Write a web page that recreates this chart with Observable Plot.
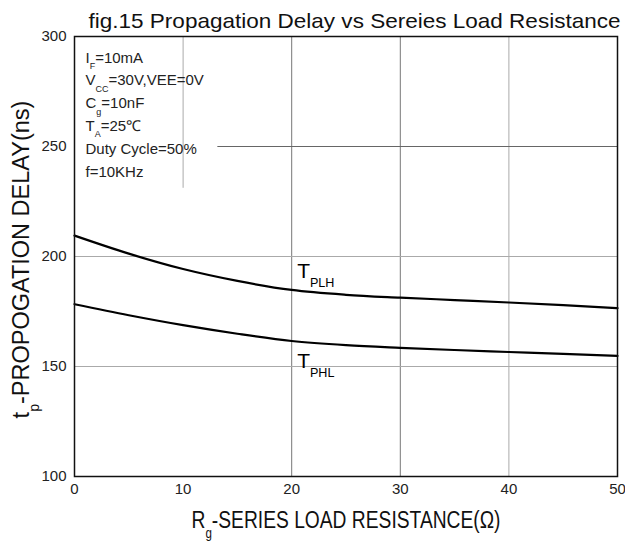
<!DOCTYPE html>
<html>
<head>
<meta charset="utf-8">
<script src="https://cdn.jsdelivr.net/npm/d3@7"></script>
<script src="https://cdn.jsdelivr.net/npm/@observablehq/plot@0.6"></script>
<style>
  html, body { margin: 0; padding: 0; background: #fff; }
</style>
</head>
<body>
<div id="chart"></div>
<script>
// ---- data ----
const resistance = [0, 5, 10, 15, 20, 25, 30, 35, 40, 45, 50];
const tplh = [209.5, 201.3, 194.3, 188.9, 184.8, 182.6, 181.3, 180.2, 179.1, 177.9, 176.5];
const tphl = [178.3, 173.3, 168.8, 164.9, 161.6, 159.7, 158.5, 157.5, 156.6, 155.7, 154.8];
const xTicks = [0, 10, 20, 30, 40, 50];
const yTicks = [100, 150, 200, 250, 300];
const gridX = [10, 20, 30, 40];
const gridXFrom = [231, 100, 100, 100];
const gridXColor = ["#aaa", "#777", "#777", "#aaa"];
const gridY = [150, 200, 250];
const gridYFrom = [0, 0, 13.2];
const gridYColor = ["#aaa", "#aaa", "#666"];
const titleText = "fig.15 Propagation Delay vs Sereies Load Resistance";
const xLabel = "R_{g}-SERIES LOAD RESISTANCE(Ω)";
const yLabel = "t_{p}-PROPOGATION DELAY(ns)";
const conditions = ["I_{F}=10mA", "V_{CC}=30V,VEE=0V", "C_{g}=10nF", "T_{A}=25℃", "Duty Cycle=50%", "f=10KHz"];
const seriesNames = ["T_{PLH}", "T_{PHL}"];
const seriesLabelX = [20.5, 20.5];
const seriesLabelY = [193.4, 152.5];

const rows = (vals, name) => resistance.map((r, i) => ({r, v: vals[i], name}));
const curves = [...rows(tplh, "PLH"), ...rows(tphl, "PHL")];
const gx = gridX.map((x, i) => ({x, y1: gridXFrom[i], c: gridXColor[i]}));
const gy = gridY.map((y, i) => ({y, x1: gridYFrom[i], c: gridYColor[i]}));
const labels = seriesNames.map((t, i) => ({t, x: seriesLabelX[i], y: seriesLabelY[i]}));

const svg = Plot.plot({
  width: 625,
  height: 542,
  marginLeft: 74,
  marginRight: 8,
  marginTop: 36,
  marginBottom: 66,
  style: {fontFamily: "'Liberation Sans', Arial, sans-serif", fontSize: "15px", color: "#222", background: "#fff"},
  x: {domain: [0, 50], ticks: xTicks, tickSize: 0, tickPadding: 7, label: null, tickFormat: d => String(d)},
  y: {domain: [100, 300], ticks: yTicks, tickSize: 0, tickPadding: 8, label: null, tickFormat: d => String(d)},
  marks: [
    Plot.ruleX(gx, {x: "x", y1: "y1", y2: 300, stroke: "c", strokeWidth: 1}),
    Plot.ruleY(gy, {y: "y", x1: "x1", x2: 50, stroke: "c", strokeWidth: 1}),
    Plot.line(curves, {x: "r", y: "v", z: "name", stroke: "#000", strokeWidth: 2.2, curve: "monotone-x"}),
    Plot.frame({stroke: "#111", strokeWidth: 1.5}),
    Plot.text(labels, {x: "x", y: "y", text: "t", textAnchor: "start", lineAnchor: "middle", fontSize: 21, fill: "#000"}),
    Plot.text([conditions.join("\n")], {text: d => d, frameAnchor: "top-left", dx: 11, dy: 10, lineAnchor: "top", textAnchor: "start", lineHeight: 1.52, fontSize: 15, fill: "#222"}),
    Plot.text([titleText], {text: d => d, frameAnchor: "top", dx: 8.5, dy: -15, lineAnchor: "middle", textAnchor: "middle", fontSize: 21, fill: "#111"}),
    Plot.text([xLabel], {text: d => d, frameAnchor: "bottom", dy: 44.5, lineAnchor: "middle", textAnchor: "middle", fontSize: 23, fill: "#111"}),
    Plot.text([yLabel], {text: d => d, frameAnchor: "left", dx: -53, dy: 3, rotate: -90, lineAnchor: "middle", textAnchor: "middle", fontSize: 23.5, fill: "#111"})
  ]
});

document.getElementById("chart").append(svg);

// stretch/condense long labels to the reference's text widths
const fitWidths = new Map([[titleText, 532], [xLabel, 309]]);
svg.querySelectorAll("text").forEach(t => {
  const w = fitWidths.get(t.textContent);
  if (w) {
    t.setAttribute("textLength", w);
    t.setAttribute("lengthAdjust", "spacingAndGlyphs");
  }
});

// turn "_{...}" markers into real subscripts
function subscripts(root, ratio = 0.6, shift = 0.42) {
  const NS = "http://www.w3.org/2000/svg";
  root.querySelectorAll("text").forEach(t => {
    const lines = Array.from(t.querySelectorAll("tspan"));
    const nodes = lines.length ? lines : [t];
    nodes.forEach(n => {
      const s = n.textContent;
      if (!s.includes("_{")) return;
      const fs = parseFloat(getComputedStyle(n).fontSize) || 14;
      const sh = fs * shift;
      n.textContent = "";
      const re = /_\{([^}]*)\}/g;
      let last = 0, m, shifted = false;
      const add = (str, sub) => {
        const sp = document.createElementNS(NS, "tspan");
        sp.textContent = str;
        if (sub) {
          sp.setAttribute("dy", sh);
          sp.setAttribute("font-size", fs * ratio);
        } else if (shifted) {
          sp.setAttribute("dy", -sh);
        }
        shifted = sub;
        n.appendChild(sp);
      };
      while ((m = re.exec(s))) {
        if (m.index > last) add(s.slice(last, m.index), false);
        add(m[1], true);
        last = re.lastIndex;
      }
      if (last < s.length) add(s.slice(last), false);
    });
  });
}
subscripts(svg);
</script>
</body>
</html>
